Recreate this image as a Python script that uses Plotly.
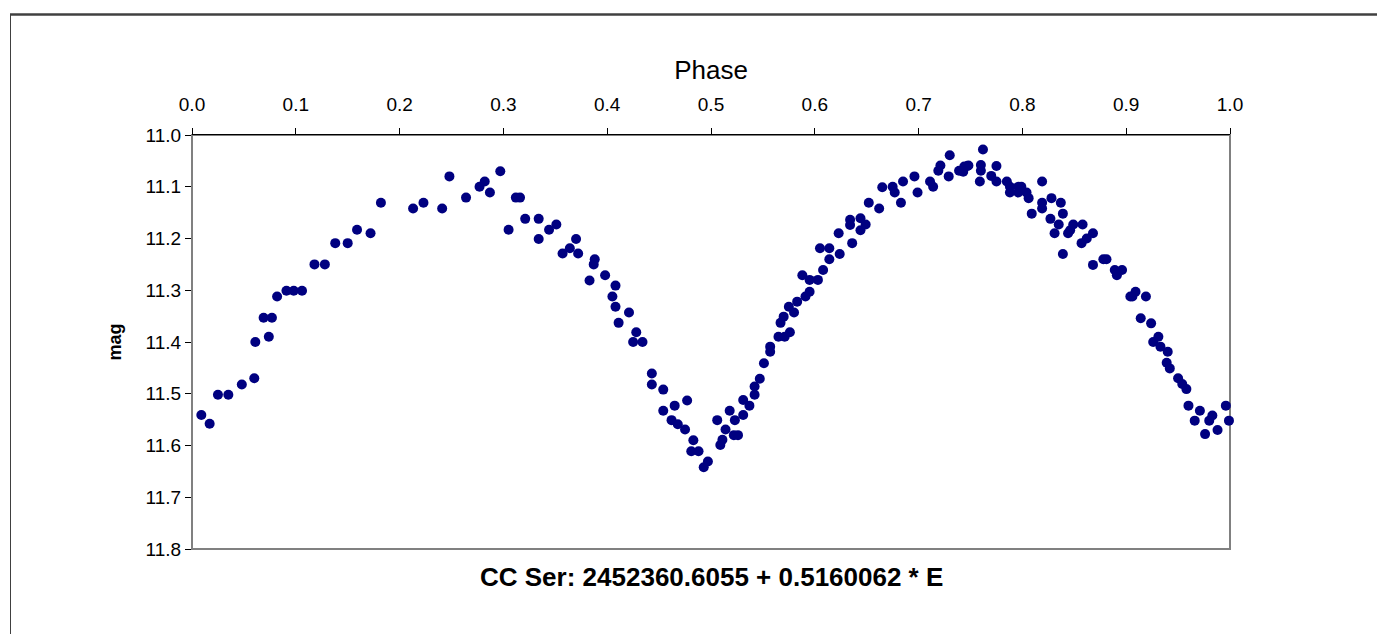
import plotly.graph_objects as go

phase = [
    0.009, 0.017, 0.025, 0.035, 0.048, 0.060, 0.061, 0.069, 0.074, 0.077,
    0.082, 0.091, 0.098, 0.106, 0.118, 0.128, 0.138, 0.150, 0.159, 0.172,
    0.182, 0.213, 0.223, 0.241, 0.248,
    0.264, 0.277, 0.282, 0.287, 0.297, 0.305, 0.312, 0.316, 0.321, 0.334,
    0.334, 0.344, 0.351, 0.357, 0.364, 0.370, 0.372, 0.383, 0.387, 0.388,
    0.398, 0.405, 0.408, 0.408, 0.411, 0.421, 0.425, 0.428, 0.434, 0.443,
    0.443, 0.454, 0.454, 0.462, 0.465, 0.468, 0.475, 0.477, 0.481, 0.483,
    0.488, 0.493, 0.497, 0.506, 0.509, 0.511, 0.514, 0.518, 0.522, 0.523,
    0.526, 0.531, 0.531, 0.537, 0.542, 0.542, 0.547, 0.551, 0.557, 0.557,
    0.565, 0.567, 0.570, 0.571, 0.575, 0.576, 0.580, 0.583, 0.588, 0.591,
    0.595, 0.595, 0.603, 0.605, 0.608, 0.614, 0.614, 0.623, 0.624, 0.634,
    0.634, 0.636, 0.644, 0.644, 0.649, 0.652, 0.662, 0.665, 0.675, 0.677,
    0.683, 0.685, 0.696, 0.699, 0.711, 0.714, 0.719, 0.721, 0.729, 0.730,
    0.739, 0.743, 0.744, 0.747, 0.748, 0.759, 0.760, 0.760, 0.762, 0.770,
    0.775, 0.775, 0.785, 0.788, 0.788, 0.796, 0.796, 0.799, 0.804, 0.806,
    0.809, 0.819, 0.819, 0.819, 0.827, 0.828, 0.831, 0.835, 0.837, 0.839,
    0.839, 0.844, 0.846, 0.849, 0.857, 0.858, 0.862, 0.868, 0.868, 0.878,
    0.881, 0.889, 0.891, 0.896, 0.904, 0.906, 0.909, 0.914, 0.919, 0.924,
    0.926, 0.931, 0.933, 0.939, 0.940, 0.942, 0.950, 0.954, 0.958, 0.960,
    0.966, 0.971, 0.976, 0.980, 0.983, 0.988, 0.996, 0.999,
]

mag = [
    11.541, 11.558, 11.502, 11.502, 11.482, 11.470, 11.400, 11.353, 11.390, 11.353,
    11.312, 11.301, 11.301, 11.301, 11.250, 11.250, 11.209, 11.209, 11.183, 11.190,
    11.131, 11.142, 11.131, 11.142, 11.080,
    11.121, 11.100, 11.090, 11.111, 11.070, 11.183, 11.121, 11.121, 11.162, 11.162,
    11.201, 11.183, 11.173, 11.229, 11.219, 11.201, 11.229, 11.281, 11.250, 11.240,
    11.271, 11.312, 11.291, 11.332, 11.363, 11.343, 11.400, 11.381, 11.400, 11.461,
    11.482, 11.492, 11.533, 11.551, 11.523, 11.559, 11.569, 11.513, 11.611, 11.590,
    11.611, 11.642, 11.631, 11.551, 11.599, 11.589, 11.569, 11.533, 11.580, 11.551,
    11.580, 11.541, 11.512, 11.523, 11.502, 11.486, 11.471, 11.441, 11.419, 11.409,
    11.390, 11.363, 11.351, 11.390, 11.332, 11.381, 11.343, 11.322, 11.271, 11.312,
    11.303, 11.280, 11.280, 11.219, 11.261, 11.240, 11.219, 11.190, 11.230, 11.164,
    11.174, 11.209, 11.161, 11.184, 11.173, 11.131, 11.142, 11.101, 11.100, 11.111,
    11.131, 11.090, 11.080, 11.111, 11.090, 11.100, 11.069, 11.059, 11.080, 11.039,
    11.069, 11.071, 11.061, 11.060, 11.059, 11.090, 11.058, 11.069, 11.028, 11.079,
    11.060, 11.090, 11.090, 11.100, 11.111, 11.100, 11.111, 11.100, 11.111, 11.122,
    11.152, 11.090, 11.131, 11.142, 11.162, 11.122, 11.190, 11.173, 11.131, 11.152,
    11.230, 11.190, 11.184, 11.173, 11.209, 11.173, 11.200, 11.190, 11.251, 11.240,
    11.240, 11.261, 11.271, 11.261, 11.312, 11.312, 11.303, 11.354, 11.312, 11.364,
    11.400, 11.390, 11.409, 11.440, 11.419, 11.451, 11.470, 11.481, 11.491, 11.523,
    11.552, 11.533, 11.578, 11.552, 11.542, 11.570, 11.523, 11.552,
]

x_ticks = [0.0, 0.1, 0.2, 0.3, 0.4, 0.5, 0.6, 0.7, 0.8, 0.9, 1.0]
y_ticks = [11.0, 11.1, 11.2, 11.3, 11.4, 11.5, 11.6, 11.7, 11.8]

title_text = "CC Ser: 2452360.6055 + 0.5160062 * E"
FONT = "Liberation Sans, Arial, sans-serif"

fig = go.Figure()
fig.add_trace(go.Scatter(
    x=phase, y=mag, mode="markers",
    marker=dict(symbol="circle", size=10, color="#000080", line=dict(width=0)),
    cliponaxis=False, showlegend=False,
))

# page body has an 8px margin; figure coordinates are screen minus 8
W, H = 1377, 626
L, R, T, B = 184, 1222, 127, 541
pw, ph = R - L, B - T

def px_x(px):
    return (px - 8 - L) / pw

def px_y(py):
    return (B - (py - 8)) / ph

fig.update_layout(
    width=W, height=H,
    margin=dict(l=L, r=W - R, t=T, b=H - B, pad=0),
    paper_bgcolor="white", plot_bgcolor="white",
    font=dict(family=FONT, color="black", size=19),
    xaxis=dict(
        range=[0, 1], side="top", tickvals=x_ticks,
        ticktext=[f"{v:.1f}" for v in x_ticks],
        ticks="outside", ticklen=6, tickcolor="black",
        ticklabelstandoff=9,
        showline=True, linecolor="black", linewidth=1,
        showgrid=False, zeroline=False,
        tickfont=dict(size=19),
        title=dict(text="Phase", font=dict(size=26), standoff=7),
    ),
    yaxis=dict(
        range=[11.8, 11.0], tickvals=y_ticks,
        ticktext=[f"{v:.1f}" for v in y_ticks],
        ticks="outside", ticklen=6, tickcolor="black",
        showline=False,
        showgrid=False, zeroline=False,
        tickfont=dict(size=19),
        title=dict(text="<b>mag</b>", font=dict(size=18), standoff=19),
    ),
    shapes=[
        # plot area border
        dict(type="rect", xref="paper", yref="paper", x0=0, x1=1, y0=0, y1=1,
             line=dict(color="#808080", width=2), layer="below"),
        # outer chart frame
        dict(type="line", xref="paper", yref="paper",
             x0=px_x(10), x1=px_x(1400), y0=px_y(14.5), y1=px_y(14.5),
             line=dict(color="#404040", width=2.5)),
        dict(type="line", xref="paper", yref="paper",
             x0=px_x(10.5), x1=px_x(10.5), y0=px_y(14), y1=px_y(650),
             line=dict(color="#404040", width=1)),
    ],
    annotations=[
        dict(text=f"<b>{title_text}</b>", xref="paper", yref="paper",
             x=0.5, y=0, xanchor="center", yanchor="middle", yshift=-28,
             showarrow=False, font=dict(size=26, color="black")),
    ],
)

fig.write_html("out.html")
